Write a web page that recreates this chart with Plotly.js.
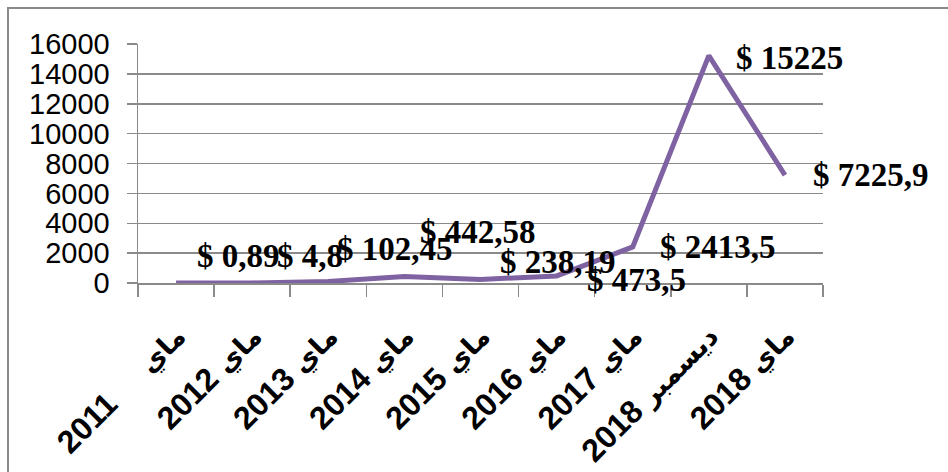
<!DOCTYPE html>
<html>
<head>
<meta charset="utf-8">
<script src="https://cdn.plot.ly/plotly-3.0.1.min.js"></script>
<style>
  html, body { margin: 0; padding: 0; background: #ffffff; }
  #chart { width: 948px; height: 472px; }
</style>
</head>
<body>
<div id="chart"></div>
<script>
// ---- data ----
var monthNames = ["ماي", "ماي", "ماي", "ماي", "ماي", "ماي", "ماي", "ديسمبر", "ماي"];
var years = ["2011", "2012", "2013", "2014", "2015", "2016", "2017", "2018", "2018"];
var categories = [
  "ماي 2011",
  "ماي 2012",
  "ماي 2013",
  "ماي 2014",
  "ماي 2015",
  "ماي 2016",
  "ماي 2017",
  "ديسمبر 2018",
  "ماي 2018"
];
var values = [0.89, 4.8, 102.45, 442.58, 238.19, 473.5, 2413.5, 15225, 7225.9];
var yTickValues = [0, 2000, 4000, 6000, 8000, 10000, 12000, 14000, 16000];

// label placement offsets (pixels) relative to each point
var labelDx = [19, 23, 7, 14, 17, 28, 25, 25, 26];
var labelDy = [27, 27, 32, 44, 17, -4, 0, -2, 0];

var gridColor = "#8a8a8a";

// tick label text: Arabic month + year; extra gap on the first label
var tickTexts = categories.map(function (c, i) {
  var gap = i === 0 ? "\u00A0\u00A0\u00A0\u00A0 " : " ";
  return "<span style='font-size:27px'>" + monthNames[i] + "</span>" + gap + years[i];
});

var trace = {
  type: "scatter",
  mode: "lines",
  x: categories,
  y: values,
  line: { color: "#7f62a1", width: 5 },
  hoverinfo: "x+y",
  showlegend: false
};

var annotations = categories.map(function (c, i) {
  return {
    x: c,
    y: values[i],
    xref: "x",
    yref: "y",
    text: "$ " + String(values[i]).replace(".", ","),
    showarrow: false,
    xanchor: "left",
    yanchor: "middle",
    xshift: labelDx[i],
    yshift: labelDy[i],
    font: { family: "Liberation Serif, Times New Roman, serif", size: 33, color: "#000000", weight: "bold" }
  };
});

var layout = {
  width: 948,
  height: 472,
  margin: { l: 138, r: 125, t: 44, b: 189, pad: 0 },
  paper_bgcolor: "#ffffff",
  plot_bgcolor: "#ffffff",
  showlegend: false,
  xaxis: {
    type: "category",
    range: [-0.5, 8.5],
    tickmode: "array",
    tickvals: categories,
    ticktext: tickTexts,
    tickson: "boundaries",
    ticks: "outside",
    ticklen: 12,
    tickwidth: 1.5,
    tickcolor: gridColor,
    showgrid: false,
    showline: true,
    linecolor: gridColor,
    linewidth: 1.5,
    zeroline: false,
    tickangle: -45,
    ticklabelstandoff: 20,
    tickfont: { family: "Arial, Liberation Sans, DejaVu Sans, sans-serif", size: 32, color: "#000000", weight: "bold" },
    fixedrange: true
  },
  yaxis: {
    range: [0, 16000],
    tickmode: "array",
    tickvals: yTickValues,
    ticktext: yTickValues.map(String),
    ticks: "outside",
    ticklen: 10,
    tickwidth: 1.5,
    tickcolor: gridColor,
    showgrid: true,
    gridcolor: gridColor,
    gridwidth: 1.5,
    showline: true,
    linecolor: gridColor,
    linewidth: 1.5,
    zeroline: false,
    ticklabelstandoff: 11,
    tickfont: { family: "Arial, Liberation Sans, sans-serif", size: 29, color: "#000000" },
    fixedrange: true
  },
  annotations: annotations,
  shapes: [{
    type: "rect",
    xref: "paper",
    yref: "paper",
    x0: (8 - 138) / 685,
    x1: (980 - 138) / 685,
    y0: (283 - 500) / 239,
    y1: (283 - 8) / 239,
    line: { color: "#8a8a8a", width: 2 },
    fillcolor: "rgba(0,0,0,0)",
    layer: "below"
  }]
};

Plotly.newPlot("chart", [trace], layout, { displayModeBar: false, staticPlot: true });
</script>
</body>
</html>
